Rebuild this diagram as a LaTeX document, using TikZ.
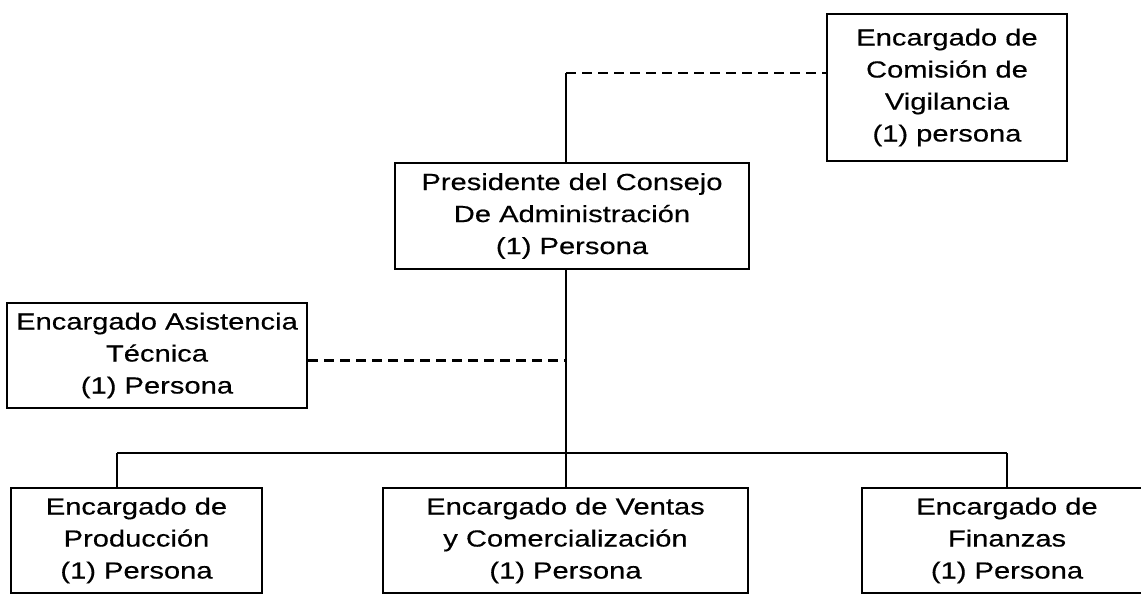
\documentclass[tikz,border=0pt]{standalone}
\usepackage{fontspec}
\newfontfamily\orgfont{Liberation Sans}[FakeStretch=1.25, FakeBold=0.4]
\begin{document}
\begin{tikzpicture}[x=0.5pt, y=-0.5pt,
  every node/.style = {shape=rectangle, draw, line width=1pt,
    align=center, inner sep=0pt,
    font=\orgfont\fontsize{11.65}{16}\selectfont},
  linea/.style = {line width=1.3pt},
  asesoria/.style = {line width=1.2pt, dash pattern=on 5pt off 3pt}]
  \useasboundingbox (0,0) rectangle (1141,594);
  \clip (0,0) rectangle (1141,594);
  % cargos
  \node (vig) [minimum width=120pt, minimum height=73.5pt] at (947,87.5)
    {Encargado de\\Comisión de\\Vigilancia\\(1) persona};
  \node (pres) [minimum width=177pt, minimum height=53pt] at (572,216)
    {Presidente del Consejo\\De Administración\\(1) Persona};
  \node (asis) [minimum width=150pt, minimum height=52.5pt] at (157,355.5)
    {Encargado Asistencia\\Técnica\\(1) Persona};
  \node (prod) [minimum width=125.5pt, minimum height=52.5pt] at (136.5,540.5)
    {Encargado de\\Producción\\(1) Persona};
  \node (vent) [minimum width=182.5pt, minimum height=52.5pt] at (565.5,540.5)
    {Encargado de Ventas\\y Comercialización\\(1) Persona};
  \node (fin) [minimum width=145pt, minimum height=52.5pt] at (1007,540.5)
    {Encargado de\\Finanzas\\(1) Persona};
  \coordinate (cima) at (566,73);
  \coordinate (bus) at (566,453);
  \coordinate (izq) at (117,453);
  % lineas
  \draw[linea] (cima) -- (cima |- pres.north);
  \draw[linea] (cima |- pres.south) -- (bus);
  \draw[asesoria] (cima) -- (cima -| vig.west);
  \draw[asesoria] ([yshift=-2.5pt]asis.east) -- ([yshift=-2.5pt]asis.east -| bus);
  \draw[linea] (izq) -- (bus -| fin.north);
  \draw[linea] (izq) -- (izq |- prod.north);
  \draw[linea] (bus) -- (bus |- vent.north);
  \draw[linea] (bus -| fin.north) -- (fin.north);
\end{tikzpicture}
\end{document}
